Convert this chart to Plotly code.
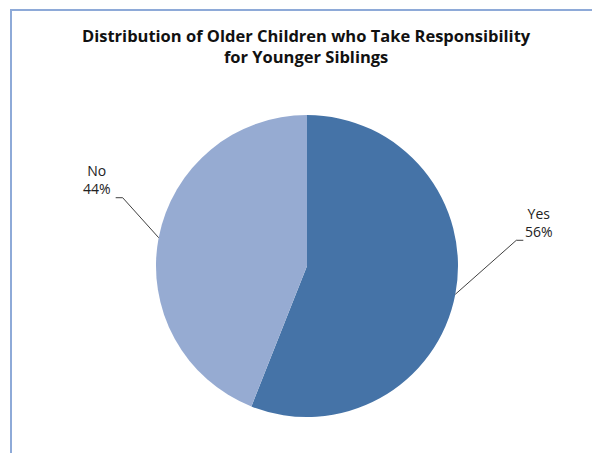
import math
import plotly.graph_objects as go

labels = ["Yes", "No"]
values = [56, 44]
colors = ["#4573A7", "#96ABD2"]
title_lines = ["Distribution of Older Children who Take Responsibility", "for Younger Siblings"]

W, H = 592, 453
cx, cy, r = 307, 266, 151

fig = go.Figure(go.Pie(
    labels=labels, values=values, sort=False, direction="clockwise", rotation=0,
    marker=dict(colors=colors, line=dict(width=0)),
    textinfo="none", hoverinfo="label+percent", showlegend=False,
    domain=dict(x=[(cx - r) / W, (cx + r) / W], y=[1 - (cy + r) / H, 1 - (cy - r) / H]),
))

shapes = [dict(type="rect", xref="paper", yref="paper",
               x0=11 / W, x1=1.2, y0=-0.2, y1=1 - 10 / H,
               line=dict(color="#8EAAD8", width=2), fillcolor="rgba(0,0,0,0)", layer="below")]
annotations = []

total = sum(values)
cum = 0
cfg = {"Yes": dict(elbow=(61, -54), side=1), "No": dict(elbow=(-36, -40), side=-1)}
for lab, v in zip(labels, values):
    mid = (cum + v / 2) / total * 2 * math.pi
    cum += v
    ex = cx + r * math.sin(mid)
    ey = cy - r * math.cos(mid)
    c = cfg[lab]
    bx, by = ex + c["elbow"][0], ey + c["elbow"][1]
    hx = bx + 7 * c["side"]
    pts = [(ex, ey), (bx, by), (hx, by)]
    path = "M " + " L ".join(f"{x / W},{1 - y / H}" for x, y in pts)
    shapes.append(dict(type="path", xref="paper", yref="paper", path=path,
                       line=dict(color="#404040", width=1)))
    pct = f"{round(v / total * 100)}%"
    if c["side"] > 0:
        tx = hx + 16
    else:
        tx = hx - 19
    annotations.append(dict(xref="paper", yref="paper", x=tx / W, y=1 - (by - 18) / H,
                            text=f"{lab}<br>{pct}", showarrow=False, xanchor="center", yanchor="middle",
                            align="center", font=dict(family="Open Sans", size=14, color="#222222")))

annotations.append(dict(xref="paper", yref="paper", x=307 / W, y=1 - 46 / H,
                        text="<br>".join(f"<b>{t}</b>" for t in title_lines), showarrow=False,
                        xanchor="center", yanchor="middle", align="center",
                        font=dict(family="Open Sans", size=16.5, color="#111111")))

fig.update_layout(width=W, height=H, margin=dict(l=0, r=0, t=0, b=0),
                  paper_bgcolor="white", plot_bgcolor="white",
                  shapes=shapes, annotations=annotations)
fig.write_html("out.html")
